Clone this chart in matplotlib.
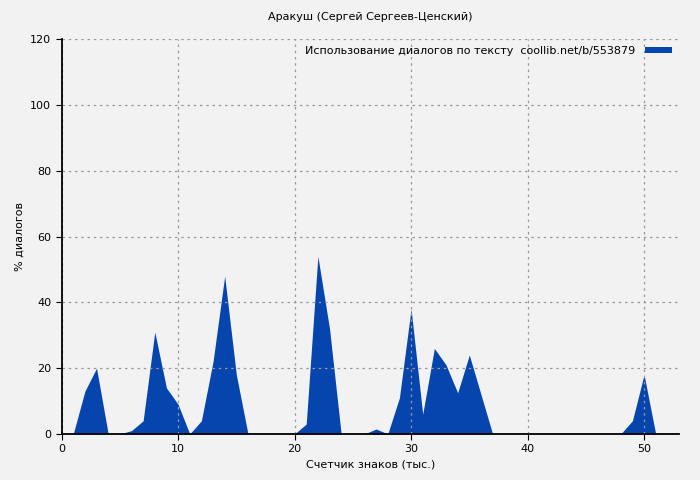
import matplotlib
matplotlib.use('Agg')
import matplotlib.pyplot as plt
import numpy as np

# thousands of characters vs % dialogue
x = np.arange(0, 54)
pct = [0, 0, 13, 20, 0, 0, 1, 4, 31, 14,
       9, 0, 4, 22, 48, 18, 0, 0, 0, 0,
       0, 3, 54, 32, 0, 0, 0, 1.5, 0, 11,
       38, 6, 26, 21, 12.5, 24, 12, 0, 0, 0,
       0, 0, 0, 0, 0, 0, 0, 0, 0, 4,
       18, 0, 0, 0]

title = 'Аракуш (Сергей Сергеев-Ценский)'
legend_label = 'Использование диалогов по тексту  coollib.net/b/553879'

fig = plt.figure(figsize=(7, 4.8), dpi=100)
fig.patch.set_facecolor('#f2f2f2')
ax = fig.add_axes([0.088, 0.096, 0.882, 0.822])
ax.set_facecolor('#f2f2f2')
ax.fill_between(x, pct, 0, color='#0645ad', linewidth=0, label=legend_label)
ax.set_xlim(0, 53)
ax.set_ylim(0, 120)
ax.set_xticks([0, 10, 20, 30, 40, 50])
ax.set_yticks(range(0, 121, 20))
ax.grid(True, color='#999999', linestyle=(0, (2, 3)), linewidth=0.9)
ax.tick_params(labelsize=8, direction='out', length=4)
for s in ['top', 'right']:
    ax.spines[s].set_visible(False)
ax.spines['left'].set_linewidth(1.3)
ax.spines['bottom'].set_linewidth(1.3)
ax.set_title(title, fontsize=8, pad=14)
ax.set_xlabel('Счетчик знаков (тыс.)', fontsize=8)
ax.set_ylabel('% диалогов', fontsize=8)
ax.legend(loc='upper right', fontsize=8, frameon=False, markerfirst=False,
          handlelength=2.5, handleheight=0.5, borderaxespad=0.2)
fig.savefig('out.png', facecolor=fig.get_facecolor())
